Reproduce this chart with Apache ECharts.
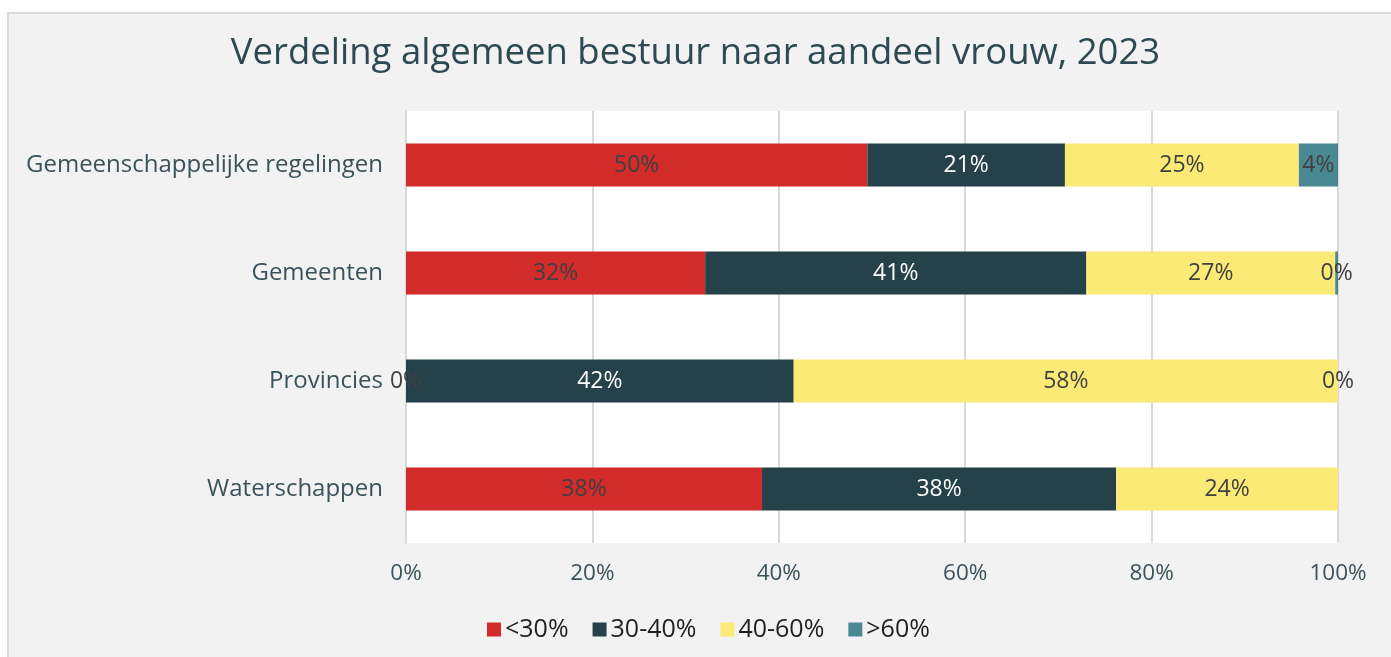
<!DOCTYPE html>
<html>
<head>
<meta charset="utf-8">
<script src="https://cdn.jsdelivr.net/npm/echarts@6/dist/echarts.min.js"></script>
<style>
  html, body { margin: 0; padding: 0; background: #ffffff; overflow: hidden; }
  #panel { position: absolute; left: 7px; top: 12px; width: 1382px; height: 660px; background: #F2F2F2; border-left: 2px solid #D9D9D9; border-top: 2px solid #D9D9D9; border-right: 2px solid #D9D9D9; }
  #chart { position: absolute; left: 0; top: 0; width: 1391px; height: 657px; }
</style>
</head>
<body>
<div id="panel"></div>
<div id="chart"></div>
<script>
const title = 'Verdeling algemeen bestuur naar aandeel vrouw, 2023';
const categories = ['Gemeenschappelijke regelingen', 'Gemeenten', 'Provincies', 'Waterschappen'];
const seriesNames = ['<30%', '30-40%', '40-60%', '>60%'];
const lt30 = [49.5, 32.1, 0, 38.2];
const s30to40 = [21.2, 40.9, 41.6, 38.0];
const s40to60 = [25.1, 26.7, 58.4, 23.8];
const gt60 = [4.2, 0.3, 0, null];
const xTicks = [0, 20, 40, 60, 80, 100];

const colors = ['#D12B2A', '#254149', '#FCEA76', '#4A8893'];
const labelColors = ['#404040', '#FFFFFF', '#404040', '#404040'];
const seriesData = [lt30, s30to40, s40to60, gt60];
const fontFamily = '"Open Sans", Lato, sans-serif';

const chart = echarts.init(document.getElementById('chart'), null, { renderer: 'canvas' });
chart.setOption({
  backgroundColor: 'transparent',
  animation: false,
  textStyle: { fontFamily: fontFamily },
  title: {
    text: title,
    left: 'center',
    top: 30,
    textStyle: { fontFamily: fontFamily, fontSize: 36.5, fontWeight: 'normal', color: '#2D4A52' }
  },
  legend: {
    data: seriesNames,
    left: 482,
    top: 612,
    icon: 'rect',
    itemWidth: 14,
    itemHeight: 14,
    itemGap: 24,
    textStyle: { fontFamily: fontFamily, fontSize: 25, color: '#1F1F1F', padding: [0, 0, 0, -1] }
  },
  grid: {
    left: 406, right: 53, top: 111, bottom: 114,
    show: true, backgroundColor: '#FFFFFF', borderWidth: 0,
    containLabel: false
  },
  xAxis: {
    type: 'value',
    min: xTicks[0],
    max: xTicks[xTicks.length - 1],
    interval: 20,
    axisLine: { show: false },
    axisTick: { show: false },
    splitLine: { show: true, lineStyle: { color: '#D9D9D9', width: 2 } },
    axisLabel: { formatter: '{value}%', fontFamily: fontFamily, fontSize: 22.5, color: '#3A535B', margin: 19 }
  },
  yAxis: {
    type: 'category',
    data: categories,
    inverse: true,
    axisLine: { show: true, lineStyle: { color: '#D9D9D9', width: 2 } },
    axisTick: { show: false },
    axisLabel: { fontFamily: fontFamily, fontSize: 24, color: '#3A535B', margin: 23 }
  },
  series: seriesNames.map((name, i) => ({
    name: name,
    type: 'bar',
    stack: 'total',
    barWidth: 43,
    data: seriesData[i],
    itemStyle: { color: colors[i] },
    label: {
      show: true,
      position: 'inside',
      formatter: p => (p.value === null || p.value === undefined) ? '' : Math.round(p.value) + '%',
      fontFamily: fontFamily,
      fontSize: 23,
      color: labelColors[i]
    }
  }))
});
</script>
</body>
</html>
